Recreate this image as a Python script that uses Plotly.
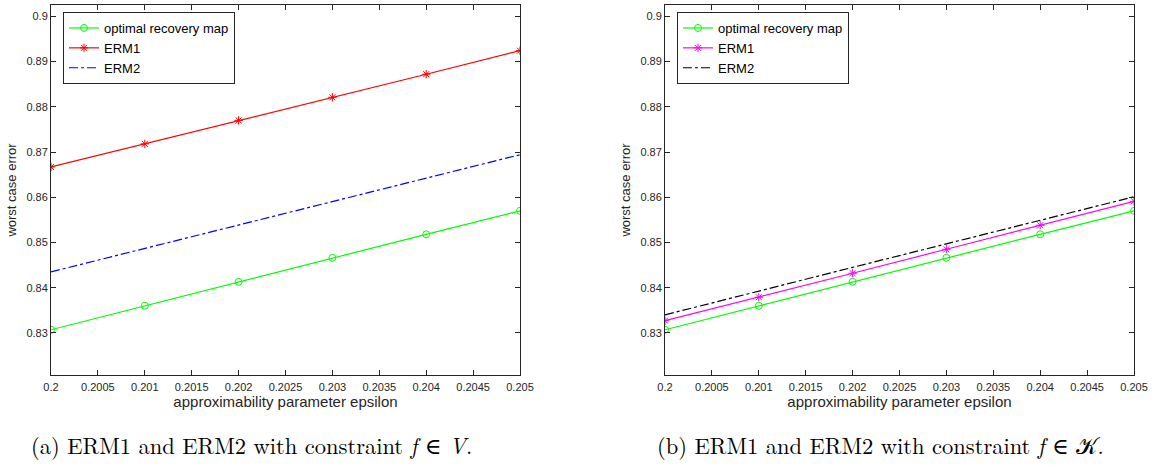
import plotly.graph_objects as go

eps = [0.200, 0.201, 0.202, 0.203, 0.204, 0.205]

# (a) constraint f in V
opt_a = [0.8307, 0.8360, 0.8413, 0.8466, 0.8518, 0.8570]
erm1_a = [0.8667, 0.8718, 0.8770, 0.8821, 0.8872, 0.8924]
erm2_a = [0.8435, 0.8487, 0.8539, 0.8591, 0.8642, 0.8694]

# (b) constraint f in K
opt_b = [0.8307, 0.8360, 0.8413, 0.8466, 0.8518, 0.8570]
erm1_b = [0.8327, 0.8379, 0.8432, 0.8485, 0.8538, 0.8591]
erm2_b = [0.8340, 0.8393, 0.8445, 0.8497, 0.8549, 0.8601]

xticks = [0.2, 0.2005, 0.201, 0.2015, 0.202, 0.2025, 0.203, 0.2035, 0.204, 0.2045, 0.205]
xticktext = ["0.2", "0.2005", "0.201", "0.2015", "0.202", "0.2025", "0.203", "0.2035", "0.204", "0.2045", "0.205"]
yticks = [0.83, 0.84, 0.85, 0.86, 0.87, 0.88, 0.89, 0.9]
yticktext = ["0.83", "0.84", "0.85", "0.86", "0.87", "0.88", "0.89", "0.9"]

W, H = 1153, 474
AX = "#262626"
FONT = "Liberation Sans, Arial, Helvetica, sans-serif"


def px(v):
    return v / W


def py(v):
    return 1 - v / H


fig = go.Figure()


def add(x, y, name, color, dash, symbol, xa, ya, legend):
    mode = "lines+markers" if symbol else "lines"
    fig.add_trace(go.Scatter(
        x=x, y=y, name=name, mode=mode, xaxis=xa, yaxis=ya, legend=legend,
        line=dict(color=color, width=1.2, dash=dash),
        marker=dict(symbol=symbol or "circle", size=7, color=color,
                    line=dict(color=color, width=1)) if symbol else None,
    ))


add(eps, opt_a, "optimal recovery map", "#00ff00", "solid", "circle-open", "x", "y", "legend")
add(eps, erm1_a, "ERM1", "#ff0000", "solid", "asterisk-open", "x", "y", "legend")
add(eps, erm2_a, "ERM2", "#0000ff", "dashdot", None, "x", "y", "legend")

add(eps, opt_b, "optimal recovery map", "#00ff00", "solid", "circle-open", "x2", "y2", "legend2")
add(eps, erm1_b, "ERM1", "#ff00ff", "solid", "asterisk-open", "x2", "y2", "legend2")
add(eps, erm2_b, "ERM2", "#000000", "dashdot", None, "x2", "y2", "legend2")

yr = [0.8207, 0.9025]

common_x = dict(range=[0.2, 0.205], tickvals=xticks, ticktext=xticktext,
                ticks="inside", ticklen=5, tickcolor=AX, showline=True,
                linecolor=AX, linewidth=1, mirror="ticks", showgrid=False,
                zeroline=False, automargin=False, ticklabelstandoff=2,
                tickfont=dict(family=FONT, size=11, color=AX),
                title=dict(text="approximability parameter epsilon",
                           font=dict(family=FONT, size=15, color=AX), standoff=4))
common_y = dict(range=yr, tickvals=yticks, ticktext=yticktext,
                ticks="inside", ticklen=5, tickcolor=AX, showline=True,
                linecolor=AX, linewidth=1, mirror="ticks", showgrid=False,
                zeroline=False, automargin=False,
                tickfont=dict(family=FONT, size=11, color=AX),
                domain=[py(375), py(5)],
                title=dict(text="worst case error",
                           font=dict(family=FONT, size=13, color=AX), standoff=6))

leg_common = dict(bgcolor="white", bordercolor=AX, borderwidth=1,
                  font=dict(family=FONT, size=13, color="black"),
                  xanchor="left", yanchor="top", tracegroupgap=0,
                  itemwidth=30)

fig.update_layout(
    width=W, height=H,
    margin=dict(l=0, r=0, t=0, b=0, autoexpand=False),
    paper_bgcolor="white", plot_bgcolor="white",
    xaxis=dict(domain=[px(51), px(520)], anchor="y", **common_x),
    yaxis=dict(anchor="x", **common_y),
    xaxis2=dict(domain=[px(665), px(1134)], anchor="y2", **common_x),
    yaxis2=dict(anchor="x2", **common_y),
    legend=dict(x=px(63), y=py(12), **leg_common),
    legend2=dict(x=px(677), y=py(12), **leg_common),
    showlegend=True,
)

SERIF = "Latin Modern Roman, CMU Serif, Liberation Serif, DejaVu Serif, serif"
fig.add_annotation(text="(a) ERM1 and ERM2 with constraint <i>f</i> ∈ <i>V</i>.",
                   xref="paper", yref="paper", x=px(251), y=py(445),
                   xanchor="center", yanchor="middle",
                   showarrow=False, font=dict(family=SERIF, size=22.5, color="black"))
fig.add_annotation(text="(b) ERM1 and ERM2 with constraint <i>f</i> ∈ 𝒦.",
                   xref="paper", yref="paper", x=px(880), y=py(445),
                   xanchor="center", yanchor="middle",
                   showarrow=False, font=dict(family=SERIF, size=22.5, color="black"))

fig.write_html("out.html", config={"displayModeBar": False},
               post_script="document.body.style.margin='0';document.body.style.overflow='hidden';")
